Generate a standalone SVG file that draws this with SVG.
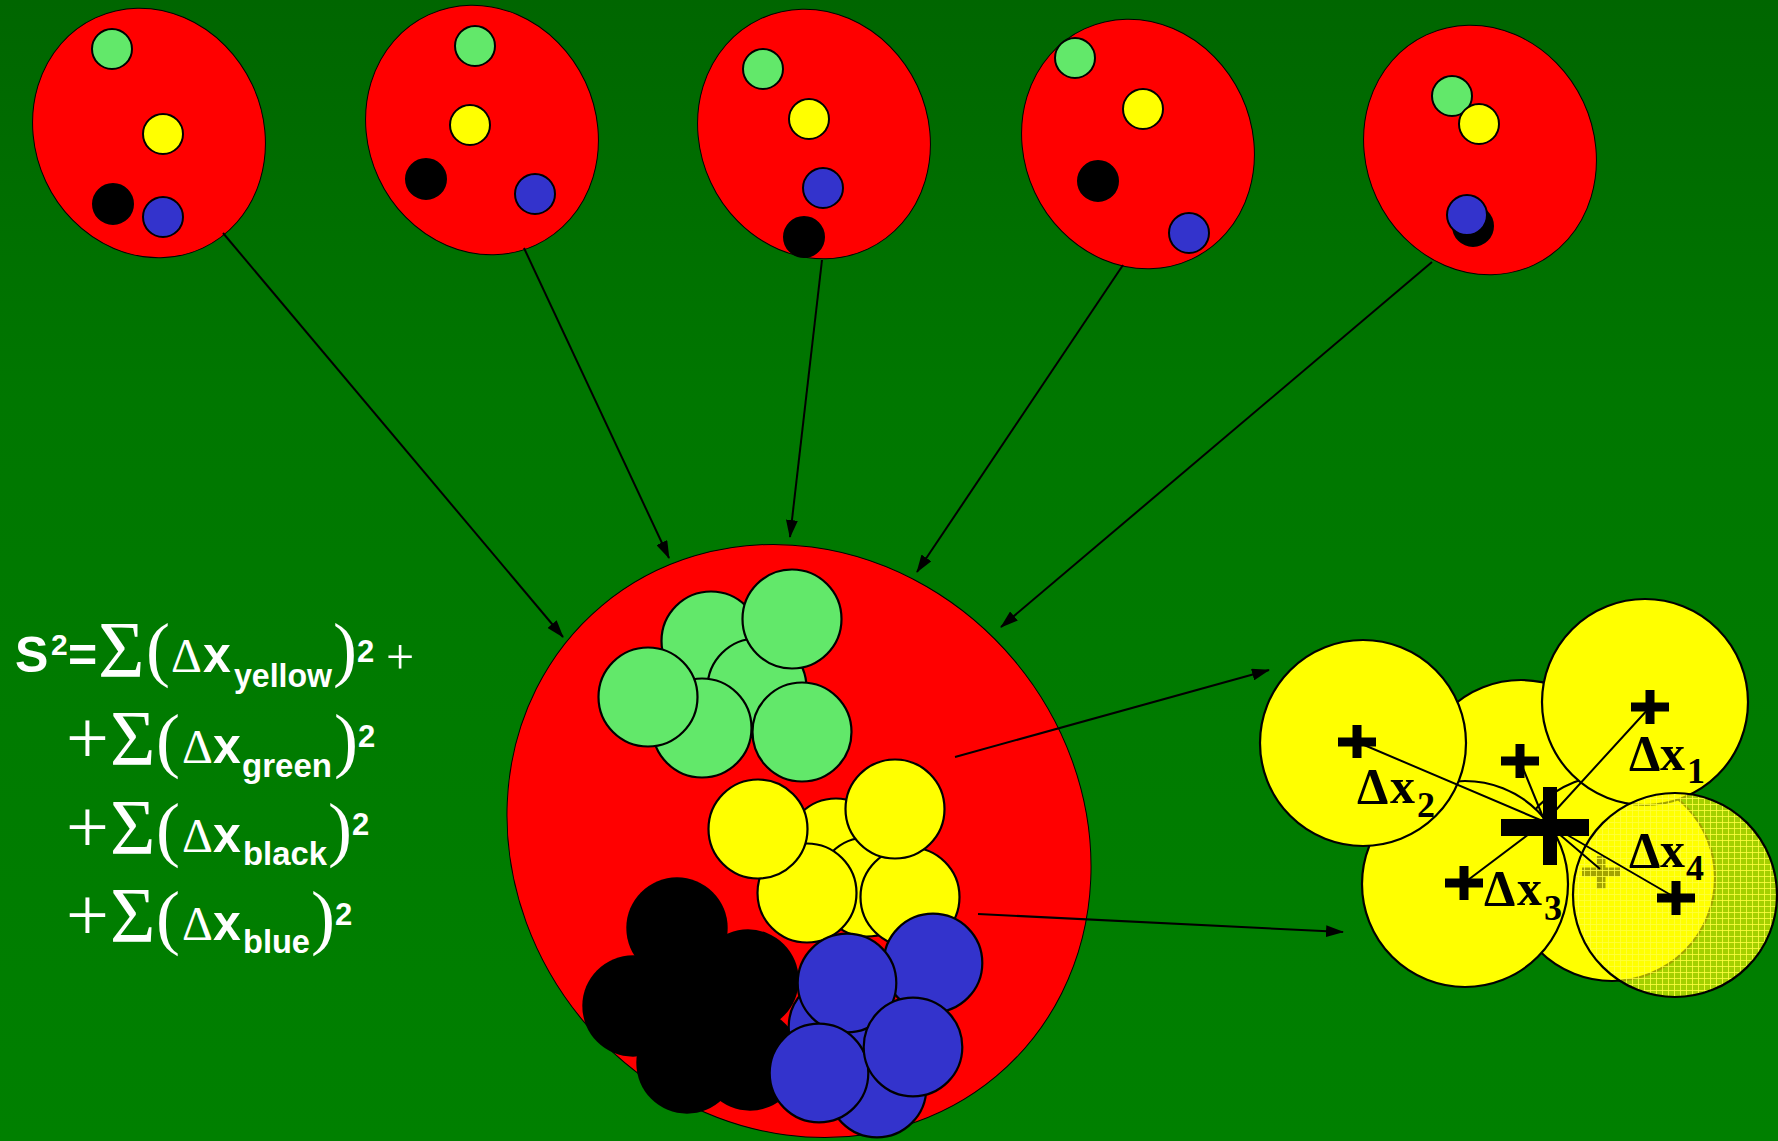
<svg xmlns="http://www.w3.org/2000/svg" width="1778" height="1141" viewBox="0 0 1778 1141">
<defs>
<linearGradient id="bg" x1="0" y1="0" x2="0" y2="1">
<stop offset="0" stop-color="#006600"/>
<stop offset="0.35" stop-color="#007700"/>
<stop offset="1" stop-color="#008000"/>
</linearGradient>
<pattern id="hatch" width="6" height="6" patternUnits="userSpaceOnUse">
<rect width="6" height="6" fill="#ffff00" fill-opacity="0.64"/>
<path d="M0,0.5 H6 M0.5,0 V6" stroke="#ffff40" stroke-width="1" stroke-opacity="0.8"/>
</pattern>
<marker id="ah" markerWidth="18" markerHeight="12" refX="17" refY="6" orient="auto" markerUnits="userSpaceOnUse">
<path d="M0,0 L18,6 L0,12 Z" fill="#000"/>
</marker>
<style>
.pop{fill:#ff0000;stroke:#000;stroke-width:1}
.dot{stroke:#000;stroke-width:2}
.g{fill:#62e86a}
.y{fill:#ffff00}
.k{fill:#000}
.b{fill:#3333cc}
.cl{stroke:#000;stroke-width:2.2}
.kk{fill:#000}
.conn{stroke:#000;stroke-width:2;fill:none;marker-end:url(#ah)}
.ray{stroke:#000;stroke-width:2;fill:none}
.cross{stroke:#000;stroke-width:9;fill:none}
.f{font-family:"Liberation Sans",Arial,sans-serif;font-weight:bold;fill:#fff}
.s{font-family:"Liberation Serif","Times New Roman",serif;font-weight:normal;fill:#fff}
.lab{font-family:"Liberation Serif","Times New Roman",serif;font-weight:bold;fill:#000}
</style>
</defs>
<rect x="0" y="0" width="1778" height="1141" fill="url(#bg)"/>

<g id="sample1">
<ellipse class="pop" cx="149" cy="133" rx="114" ry="127" transform="rotate(-25 149 133)"/>
<circle class="dot g" cx="112" cy="49" r="20"/>
<circle class="dot y" cx="163" cy="134" r="20"/>
<circle class="dot k" cx="113" cy="204" r="20"/>
<circle class="dot b" cx="163" cy="217" r="20"/>
</g>
<g id="sample2">
<ellipse class="pop" cx="482" cy="130" rx="114" ry="127" transform="rotate(-25 482 130)"/>
<circle class="dot g" cx="475" cy="46" r="20"/>
<circle class="dot y" cx="470" cy="125" r="20"/>
<circle class="dot k" cx="426" cy="179" r="20"/>
<circle class="dot b" cx="535" cy="194" r="20"/>
</g>
<g id="sample3">
<ellipse class="pop" cx="814" cy="134" rx="114" ry="127" transform="rotate(-25 814 134)"/>
<circle class="dot g" cx="763" cy="69" r="20"/>
<circle class="dot y" cx="809" cy="119" r="20"/>
<circle class="dot b" cx="823" cy="188" r="20"/>
<circle class="dot k" cx="804" cy="237" r="20"/>
</g>
<g id="sample4">
<ellipse class="pop" cx="1138" cy="144" rx="114" ry="127" transform="rotate(-25 1138 144)"/>
<circle class="dot g" cx="1075" cy="58" r="20"/>
<circle class="dot y" cx="1143" cy="109" r="20"/>
<circle class="dot k" cx="1098" cy="181" r="20"/>
<circle class="dot b" cx="1189" cy="233" r="20"/>
</g>
<g id="sample5">
<ellipse class="pop" cx="1480" cy="150" rx="114" ry="127" transform="rotate(-25 1480 150)"/>
<circle class="dot g" cx="1452" cy="96" r="20"/>
<circle class="dot y" cx="1479" cy="124" r="20"/>
<circle class="dot k" cx="1473" cy="226" r="20"/>
<circle class="dot b" cx="1467" cy="215" r="20"/>
</g>

<g id="pooled">
<ellipse class="pop" cx="799" cy="841" rx="281" ry="307" transform="rotate(-40 799 841)"/>
<circle class="cl g" cx="711" cy="641" r="49.5"/>
<circle class="cl g" cx="757" cy="688" r="49.5"/>
<circle class="cl g" cx="792" cy="619" r="49.5"/>
<circle class="cl g" cx="702" cy="728" r="49.5"/>
<circle class="cl g" cx="648" cy="697" r="49.5"/>
<circle class="cl g" cx="802" cy="732" r="49.5"/>
<circle class="cl y" cx="836" cy="848" r="49.5"/>
<circle class="cl y" cx="867" cy="887" r="49.5"/>
<circle class="cl y" cx="807" cy="893" r="49.5"/>
<circle class="cl y" cx="758" cy="829" r="49.5"/>
<circle class="cl y" cx="910" cy="897" r="49.5"/>
<circle class="cl y" cx="895" cy="809" r="49.5"/>
<circle class="kk" cx="677" cy="928" r="50.7"/>
<circle class="kk" cx="748" cy="980" r="50.7"/>
<circle class="kk" cx="633" cy="1006" r="50.7"/>
<circle class="kk" cx="687" cy="1063" r="50.7"/>
<circle class="kk" cx="750" cy="1060" r="50.7"/>
<circle class="kk" cx="700" cy="1010" r="50.7"/>
<circle class="cl b" cx="877" cy="1088" r="49.3"/>
<circle class="cl b" cx="838" cy="1027" r="49.3"/>
<circle class="cl b" cx="933" cy="963" r="49.3"/>
<circle class="cl b" cx="847" cy="983" r="49.3"/>
<circle class="cl b" cx="819" cy="1073" r="49.3"/>
<circle class="cl b" cx="913" cy="1047" r="49.3"/>
</g>

<g id="yellow-detail">
<circle class="cl y" cx="1521" cy="783" r="103"/>
<circle class="cl y" cx="1612" cy="878" r="103"/>
<circle class="cl y" cx="1465" cy="884" r="103"/>
<circle class="cl y" cx="1363" cy="743" r="103"/>
<circle class="cl y" cx="1645" cy="702" r="103"/>
<path class="cross" d="M1582,872 H1620 M1601,856 V889"/>
<circle cx="1675" cy="895" r="102" fill="url(#hatch)" stroke="#000" stroke-width="2.2"/>
<path class="ray" d="M1545,822 L1357,742 M1545,822 L1520,761 M1545,822 L1650,707 M1545,822 L1464,883 M1545,822 L1676,898 M1545,822 L1600,869"/>
<path class="cross" d="M1338,742 H1376 M1357,725 V758"/>
<path class="cross" d="M1501,761 H1539 M1520,744 V778"/>
<path class="cross" d="M1631,707 H1669 M1650,690 V724"/>
<path class="cross" d="M1445,883 H1483 M1464,866 V900"/>
<path class="cross" d="M1657,898 H1695 M1676,881 V915"/>
<rect x="1501" y="819" width="88" height="17" fill="#000"/>
<rect x="1543" y="787" width="14" height="78" fill="#000"/>
<text class="lab" font-size="50" y="770"><tspan x="1629">Δ</tspan><tspan x="1660">x</tspan><tspan x="1687" y="783" font-size="36">1</tspan></text>
<text class="lab" font-size="50" y="803"><tspan x="1357">Δ</tspan><tspan x="1390">x</tspan><tspan x="1417" y="817" font-size="36">2</tspan></text>
<text class="lab" font-size="50" y="905"><tspan x="1484">Δ</tspan><tspan x="1517">x</tspan><tspan x="1544" y="920" font-size="36">3</tspan></text>
<text class="lab" font-size="50" y="867"><tspan x="1629">Δ</tspan><tspan x="1660">x</tspan><tspan x="1686" y="880" font-size="36">4</tspan></text>
</g>

<g id="connectors">
<line class="conn" x1="223" y1="233" x2="563" y2="637"/>
<line class="conn" x1="524" y1="248" x2="669" y2="558"/>
<line class="conn" x1="822" y1="260" x2="790" y2="537"/>
<line class="conn" x1="1123" y1="265" x2="917" y2="572"/>
<line class="conn" x1="1432" y1="262" x2="1001" y2="627"/>
<line class="conn" x1="955" y1="757" x2="1269" y2="670"/>
<line class="conn" x1="978" y1="914" x2="1343" y2="932"/>
</g>

<g id="formula">
<text class="f" font-size="50" y="672"><tspan x="15">S</tspan><tspan x="51" y="655" font-size="30">2</tspan><tspan x="68" y="672">=</tspan><tspan class="s" x="98" y="677" font-size="80">Σ</tspan><tspan class="s" x="146" y="673" font-size="72">(</tspan><tspan class="s" x="171" y="672" font-size="48">Δ</tspan><tspan x="203" y="672">x</tspan><tspan x="234" y="687" font-size="33" textLength="98" lengthAdjust="spacingAndGlyphs">yellow</tspan><tspan class="s" x="333" y="673" font-size="72">)</tspan><tspan x="357" y="662" font-size="31">2</tspan><tspan class="s" x="386" y="674" font-size="50">+</tspan></text>
<text class="f" font-size="50" y="763"><tspan class="s" x="66" y="763" font-size="76">+</tspan><tspan class="s" x="110" y="764" font-size="78">Σ</tspan><tspan class="s" x="156" y="764" font-size="72">(</tspan><tspan class="s" x="182" y="763" font-size="48">Δ</tspan><tspan x="213" y="763">x</tspan><tspan x="242" y="777" font-size="33" textLength="90" lengthAdjust="spacingAndGlyphs">green</tspan><tspan class="s" x="334" y="764" font-size="72">)</tspan><tspan x="358" y="747" font-size="31">2</tspan></text>
<text class="f" font-size="50" y="852"><tspan class="s" x="66" y="852" font-size="76">+</tspan><tspan class="s" x="110" y="853" font-size="78">Σ</tspan><tspan class="s" x="156" y="853" font-size="72">(</tspan><tspan class="s" x="182" y="852" font-size="48">Δ</tspan><tspan x="213" y="852">x</tspan><tspan x="243" y="865" font-size="33" textLength="84" lengthAdjust="spacingAndGlyphs">black</tspan><tspan class="s" x="328" y="853" font-size="72">)</tspan><tspan x="352" y="835" font-size="31">2</tspan></text>
<text class="f" font-size="50" y="940"><tspan class="s" x="66" y="940" font-size="76">+</tspan><tspan class="s" x="110" y="941" font-size="78">Σ</tspan><tspan class="s" x="156" y="941" font-size="72">(</tspan><tspan class="s" x="182" y="940" font-size="48">Δ</tspan><tspan x="213" y="940">x</tspan><tspan x="243" y="953" font-size="33" textLength="67" lengthAdjust="spacingAndGlyphs">blue</tspan><tspan class="s" x="311" y="941" font-size="72">)</tspan><tspan x="335" y="925" font-size="31">2</tspan></text>
</g>
</svg>
